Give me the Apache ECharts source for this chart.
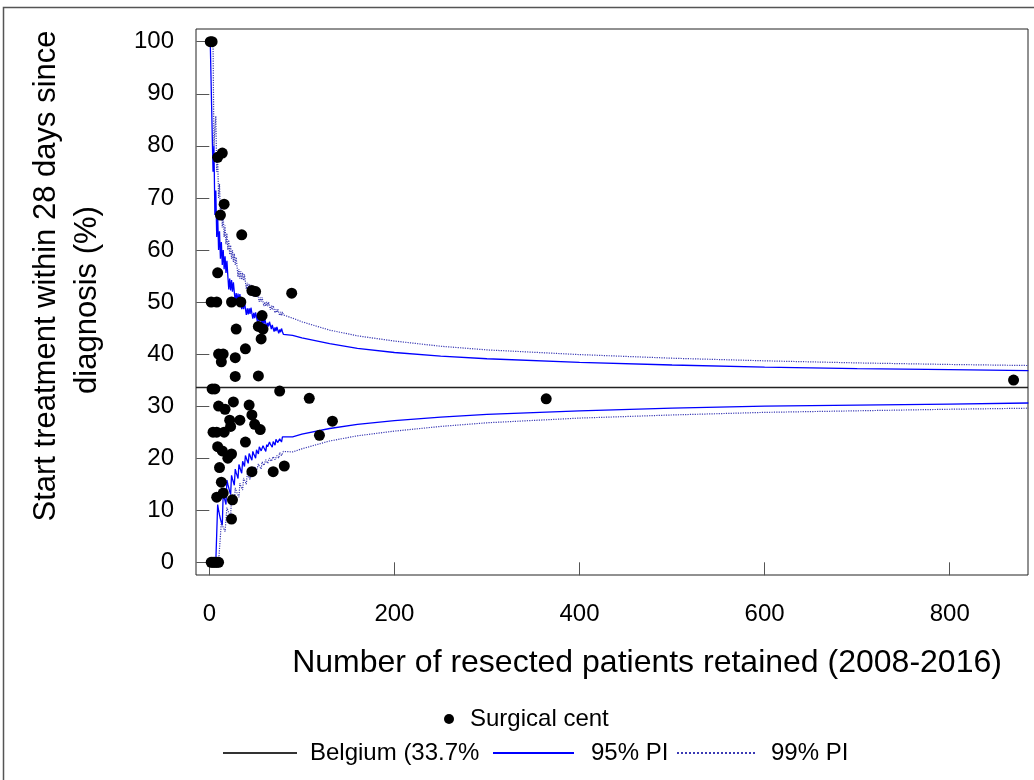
<!DOCTYPE html>
<html>
<head>
<meta charset="utf-8">
<script src="https://cdn.jsdelivr.net/npm/echarts@6/dist/echarts.min.js"></script>
<style>
html,body{margin:0;padding:0;background:#fff;}
#chart{width:1034px;height:780px;}
</style>
</head>
<body>
<div id="chart"></div>
<script>
// ---- data ----
const xTicks = [0, 200, 400, 600, 800];
const yTicks = [0, 10, 20, 30, 40, 50, 60, 70, 80, 90, 100];

const belgiumRate = 33.7;

// Surgical centres: number of resected patients and % starting treatment within 28 days
const centreN = [1,3, 9,14, 16,12, 35, 9, 46,50, 89, 2,8,24,34, 57,53,58,56, 29,
  10,15,13,28,39, 28,53, 3,6, 76, 108, 133, 119, 10,17,26,43, 22,33,46, 23,49,55,
  4,8,16, 9,14, 39, 20,24, 11, 13, 46,69,81, 8,15, 25, 24, 2,4,6,8,10, 364, 869];
const centreRate = [100,100, 77.8,78.6, 68.8,66.7, 62.9, 55.6, 52.2,52, 51.7, 50,50,50,50, 47.4,45.3,44.8,42.9, 44.8,
  40,40,38.5,39.3,41, 35.7,35.8, 33.3,33.3, 32.9, 31.5, 27.1, 24.4, 30,29.4,30.8,30.2, 27.3,27.3,28.3, 26.1,26.5,25.5,
  25,25,25, 22.2,21.4, 23.1, 20,20.8, 18.2, 15.4, 17.4,17.4,18.5, 12.5,13.3, 12, 8.3, 0,0,0,0,0, 31.4, 35];

// Prediction limits (sample sizes and limit values, jagged at small sizes)
const limitN = [1,2,3,4,5,6,7,8,9,10, 11,12,13,14,15,16,17,18,19,20,
  21,22,23,24,25,26,27,28,29,30, 31,32,33,34,35,36,37,38,39,40,
  41,42,43,44,45,46,47,48,49,50, 51,52,53,54,55,56,57,58,59,60,
  61,62,63,64,65,66,67,68,69,70, 71,72,73,74,75,76,77,78,79,80,
  90,100,130,160,200,250,300,400,500,600,700,800,885];
const upper95 = [100,100,100,75,80,66.7,71.4,62.5,66.7,60, 63.6,58.3,61.5,57.1,60,56.3,58.8,55.6,57.9,55,
  52.4,54.5,52.2,54.2,52,53.8,51.9,50,51.7,50, 51.6,50,51.5,50,48.6,50,48.6,50,48.7,47.5,
  48.8,47.6,48.8,47.7,48.9,47.8,46.8,47.9,46.9,48, 47.1,46.2,47.2,46.3,47.3,46.4,45.6,46.6,45.8,46.7,
  45.9,45.2,46,45.3,46.2,45.5,44.8,45.6,44.9,44.3, 45.1,44.4,45.2,44.6,44,44.7,44.2,44.9,44.3,43.8,
  43.6,43.1,42,41.1,40.3,39.6,39.1,38.4,37.9,37.5,37.2,37,36.8];
const lower95 = [0,0,0,0,0,0,0,0,11.1,10, 9.1,8.3,7.7,7.1,13.3,12.5,11.8,11.1,15.8,15,
  14.3,13.6,13,16.7,16,15.4,14.8,17.9,17.2,16.7, 16.1,18.8,18.2,17.6,17.1,19.4,18.9,18.4,20.5,20,
  19.5,19,20.9,20.5,20,19.6,21.3,20.8,20.4,20, 21.6,21.2,20.8,22.2,21.8,21.4,21.1,22.4,22,21.7,
  21.3,22.6,22.2,21.9,23.1,22.7,22.4,22.1,23.2,22.9, 22.5,23.6,23.3,23,22.7,23.7,23.4,23.1,24.1,23.8,
  24.1,24.6,25.7,26.5,27.2,27.9,28.4,29.1,29.6,30,30.2,30.4,30.6];
const upper99 = [100,100,100,100,80,83.3,85.7,75,77.8,70, 72.7,66.7,69.2,64.3,66.7,62.5,64.7,61.1,63.2,60,
  61.9,59.1,60.9,58.3,60,57.7,59.3,57.1,58.6,56.7, 54.8,56.3,54.5,55.9,54.3,55.6,54.1,55.3,53.8,52.5,
  53.7,52.4,53.5,52.3,53.3,52.2,51.1,52.1,51,52, 51,51.9,50.9,50,50.9,50,50.9,50,49.2,50,
  49.2,50,49.2,50,49.2,48.5,49.3,48.5,49.3,48.6, 47.9,48.6,48,48.6,48,47.4,48.1,47.4,48.1,47.5,
  46.9,46.2,44.6,43.5,42.5,41.5,40.8,39.9,39.2,38.7,38.3,38,37.8];
const lower99 = [0,0,0,0,0,0,0,0,0,0, 0,0,7.7,7.1,6.7,6.3,5.9,5.6,10.5,10,
  9.5,9.1,8.7,12.5,12,11.5,11.1,14.3,13.8,13.3, 12.9,12.5,15.2,14.7,14.3,13.9,16.2,15.8,15.4,15,
  17.1,16.7,16.3,15.9,17.8,17.4,17,16.7,18.4,18, 17.6,17.3,18.9,18.5,18.2,17.9,19.3,19,18.6,18.3,
  19.7,19.4,19,18.8,20,19.7,19.4,19.1,20.3,20, 19.7,19.4,20.5,20.3,20,21.1,20.8,20.5,20.3,21.3,
  21.2,21.8,23.3,24.3,25.2,26.1,26.8,27.7,28.3,28.8,29.1,29.4,29.6];

const xTitle = 'Number of resected patients retained (2008-2016)';
const yTitle1 = 'Start treatment within 28 days since';
const yTitle2 = 'diagnosis (%)';
const nameCentres = 'Surgical centres';
const nameBelgium = 'Belgium (33.7%)';
const name95 = '95% PI';
const name99 = '99% PI';

// ---- build ----
const FONT = '"Liberation Sans", Arial, sans-serif';
const pairs = (xs, ys) => xs.map((x, i) => [x, ys[i]]);

const chart = echarts.init(document.getElementById('chart'), null, {renderer: 'canvas'});

function legendBox(name, left, top, w, h, isLine, textPadLeft, textWidth) {
  const lg = {
    data: [name], left: left, top: top, padding: 0, orient: 'horizontal',
    itemWidth: w, itemHeight: h, selectedMode: false,
    textStyle: {
      fontSize: 24, fontFamily: FONT, color: '#000',
      padding: [0, 0, 0, textPadLeft]
    }
  };
  if (isLine) {
    lg.itemStyle = {opacity: 0, borderWidth: 0};
  } else {
    lg.icon = 'circle';
  }
  if (textWidth) {
    lg.textStyle.width = textWidth;
    lg.textStyle.overflow = 'truncate';
    lg.textStyle.ellipsis = '';
  }
  return lg;
}

const limitLine = (name, vals, color, type, width) => ({
  name: name, type: 'line', data: pairs(limitN, vals),
  showSymbol: false, symbol: 'none', silent: true, z: 2,
  lineStyle: {color: color, width: width, type: type},
  itemStyle: {color: color}
});

const option = {
  animation: false,
  backgroundColor: '#ffffff',
  grid: {
    left: 196, top: 29, width: 832, height: 546,
    show: true, borderColor: '#222', borderWidth: 1,
    containLabel: false, outerBoundsMode: 'none'
  },
  xAxis: {
    type: 'value', min: -14.4, max: 884.6,
    axisLine: {show: false},
    splitLine: {show: false},
    axisTick: {show: true, length: 13, lineStyle: {color: '#555', width: 1}, customValues: xTicks},
    axisLabel: {customValues: xTicks, fontSize: 24, fontFamily: FONT, color: '#000', margin: 27}
  },
  yAxis: {
    type: 'value', min: -2.44, max: 102.44,
    axisLine: {show: false},
    splitLine: {show: false},
    axisTick: {show: true, length: 13, lineStyle: {color: '#555', width: 1}, customValues: yTicks},
    axisLabel: {customValues: yTicks, fontSize: 24, fontFamily: FONT, color: '#000', margin: 22}
  },
  legend: [
    legendBox(nameCentres, 444, 707, 10, 10, false, 11, 143),
    legendBox(nameBelgium, 222, 741, 74, 14, true, 8, 173),
    legendBox(name95, 492, 741, 81, 14, true, 12, null),
    legendBox(name99, 676, 741, 80, 14, true, 9, null)
  ],
  graphic: [
    {type: 'rect', silent: true, shape: {x: 3.5, y: 7.5, width: 1100, height: 900},
     style: {fill: 'none', stroke: '#555', lineWidth: 1.5}},
    {type: 'text', silent: true, x: 46, y: 276, rotation: Math.PI / 2,
     style: {text: yTitle1, font: '31px ' + FONT, fill: '#000', align: 'center', verticalAlign: 'middle', textAlign: 'center', textVerticalAlign: 'middle'}},
    {type: 'text', silent: true, x: 87, y: 300, rotation: Math.PI / 2,
     style: {text: yTitle2, font: '31px ' + FONT, fill: '#000', align: 'center', verticalAlign: 'middle', textAlign: 'center', textVerticalAlign: 'middle'}},
    {type: 'text', silent: true, x: 647, y: 663,
     style: {text: xTitle, font: '32px ' + FONT, fill: '#000', align: 'center', verticalAlign: 'middle', textAlign: 'center', textVerticalAlign: 'middle'}}
  ],
  series: [
    {
      name: nameCentres, type: 'scatter', data: pairs(centreN, centreRate),
      symbol: 'circle', symbolSize: 11, z: 5,
      itemStyle: {color: '#000', opacity: 1}
    },
    {
      name: nameBelgium, type: 'line', data: [], z: 3, symbol: 'none', showSymbol: false,
      lineStyle: {color: '#333', width: 1.3},
      itemStyle: {color: '#333'},
      markLine: {
        silent: true, symbol: ['none', 'none'], animation: false,
        label: {show: false},
        lineStyle: {color: '#222', width: 1.3, type: 'solid'},
        data: [{yAxis: belgiumRate}]
      }
    },
    limitLine(name95, upper95, '#0000ff', 'solid', 1.3),
    limitLine(name95, lower95, '#0000ff', 'solid', 1.3),
    limitLine(name99, upper99, '#3a3ab4', 'dotted', 1.2),
    limitLine(name99, lower99, '#3a3ab4', 'dotted', 1.2)
  ]
};

chart.setOption(option);
</script>
</body>
</html>
